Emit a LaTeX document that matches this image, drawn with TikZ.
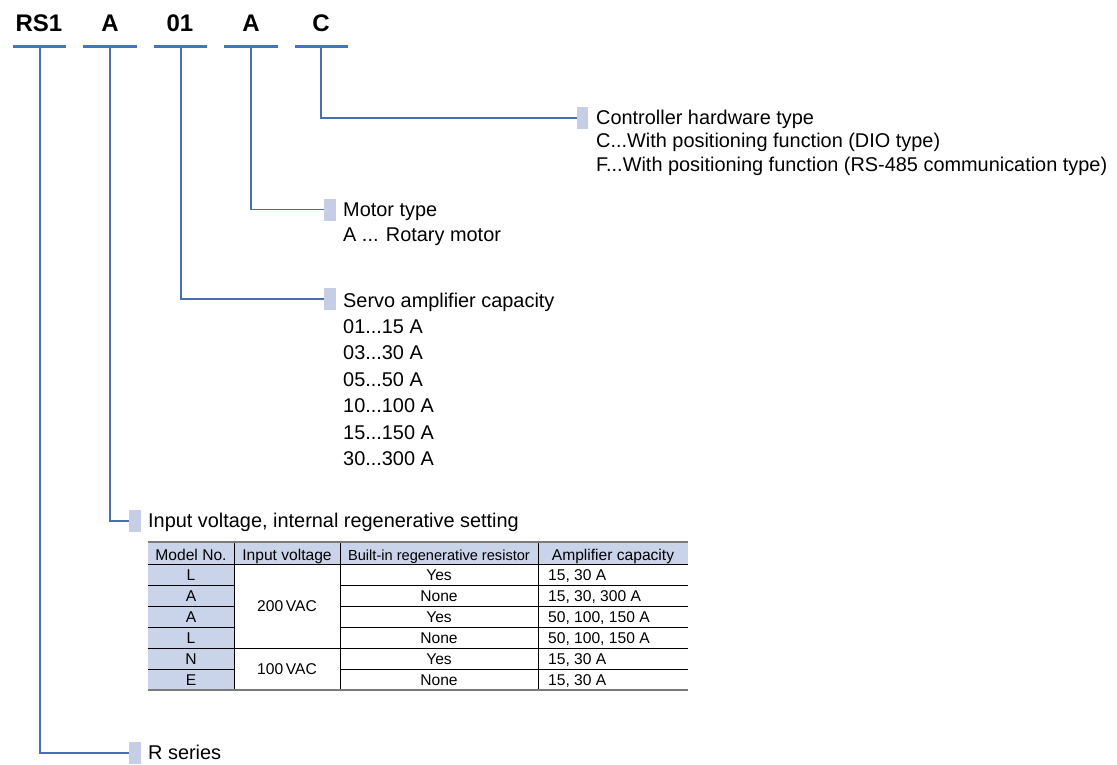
\documentclass[tikz,border=0pt]{standalone}
\usepackage{fontspec}
\setmainfont{Liberation Sans}
\definecolor{lineblue}{HTML}{4A6DB4}
\definecolor{barblue}{HTML}{4472C4}
\definecolor{markfill}{HTML}{C5CEE4}
\definecolor{hdrfill}{HTML}{C9D3E9}
\definecolor{tgray}{HTML}{7A7A7A}
\begin{document}
\begin{tikzpicture}[x=1pt,y=-1pt,
  codelbl/.style={font=\bfseries\fontsize{24}{28}\selectfont, anchor=base, inner sep=0},
  bar/.style={draw=barblue, line width=3pt},
  conn/.style={draw=lineblue, line width=1.2pt},
  markbox/.style={fill=markfill, minimum width=11.5pt, minimum height=22pt, inner sep=0},
  body/.style={font=\fontsize{19.9}{23}\selectfont, anchor=base west, inner sep=0},
  tbl/.style={font=\fontsize{15.6}{18}\selectfont, anchor=base, inner sep=0},
  tblw/.style={font=\fontsize{15.6}{18}\selectfont, anchor=base west, inner sep=0},
  tline/.style={draw=black, line width=0.9pt},
  tedge/.style={draw=tgray, line width=1.6pt}]
\useasboundingbox (0,0) rectangle (1117,764);
\fill[white] (0,0) rectangle (1117,764);

% code letters
\node[codelbl] (c1) at (39,31) {RS1};
\node[codelbl] (c2) at (110,31) {A};
\node[codelbl] (c3) at (180,31) {01};
\node[codelbl] (c4) at (251,31) {A};
\node[codelbl] (c5) at (321,31) {C};

% bars
\draw[bar] (13,46) -- (66,46);
\draw[bar] (83,46) -- (137,46);
\draw[bar] (154,46) -- (207,46);
\draw[bar] (224,46) -- (278,46);
\draw[bar] (295,46) -- (348,46);
\coordinate (b1) at (40,47.5);
\coordinate (b2) at (110,47.5);
\coordinate (b3) at (181,47.5);
\coordinate (b4) at (251,47.5);
\coordinate (b5) at (321,47.5);

% markers
\node[markbox] (m5) at (582.5,118) {};
\node[markbox] (m4) at (330,209.5) {};
\node[markbox] (m3) at (330,299) {};
\node[markbox] (m2) at (135,521) {};
\node[markbox] (m1) at (135,753) {};

% connectors
\draw[conn] (b5) |- (m5.west);
\draw[conn] (b4) |- (m4.west);
\draw[conn] (b3) |- (m3.west);
\draw[conn] (b2) |- (m2.west);
\draw[conn] (b1) |- (m1.west);

% texts
\node[body] (t5a) at (596,124) {Controller hardware type};
\node[body] (t5b) at (596,147.5) {C...With positioning function (DIO type)};
\node[body] (t5c) at (596,171) {F...With positioning function (RS-485 communication type)};

\node[body] (t4a) at (343,216) {Motor type};
\node[body] (t4b) at (343,241) {A ... Rotary motor};

\node[body] (t3a) at (343,307) {Servo amplifier capacity};
\node[body] (t31) at (343,333.4) {01...15 A};
\node[body] (t32) at (343,359.8) {03...30 A};
\node[body] (t33) at (343,386.2) {05...50 A};
\node[body] (t34) at (343,412.6) {10...100 A};
\node[body] (t35) at (343,439.0) {15...150 A};
\node[body] (t36) at (343,465.4) {30...300 A};

\node[body] (t2) at (148,527) {Input voltage, internal regenerative setting};
\node[body] (t1) at (148,759) {R series};

% table
\fill[hdrfill] (148,542) rectangle (688,564);
\fill[hdrfill] (148,564) rectangle (234,690);
\foreach \y in {585,606,627,669} {
  \draw[tline] (148,\y) -- (234,\y);
  \draw[tline] (340,\y) -- (688,\y);
}
\draw[tline] (148,564) -- (688,564);
\draw[tline] (148,648) -- (688,648);
\foreach \x in {234,340,538}
  \draw[tline] (\x,542) -- (\x,690);
\draw[tedge] (148,542) -- (688,542);
\draw[tedge] (148,690) -- (688,690);

\node[tbl] (h1) at (191,560) {Model No.};
\node[tbl] (h2) at (287,560) {Input voltage};
\node[tbl, font=\fontsize{14.6}{16}\selectfont] (h3) at (439,560) {Built-in regenerative resistor};
\node[tbl] (h4) at (613,560) {Amplifier capacity};

\foreach \i/\m/\r/\a in {1/L/Yes/{15, 30 A}, 2/A/None/{15, 30, 300 A}, 3/A/Yes/{50, 100, 150 A}, 4/L/None/{50, 100, 150 A}, 5/N/Yes/{15, 30 A}, 6/E/None/{15, 30 A}} {
  \node[tbl] (mn\i) at (191,564+21*\i-4.5) {\m};
  \node[tbl] (rr\i) at (439,564+21*\i-4.5) {\r};
  \node[tblw] (ac\i) at (548,564+21*\i-4.5) {\a};
}
\node[tbl] (v200) at (287,611.5) {200\,VAC};
\node[tbl] (v100) at (287,674.5) {100\,VAC};
\end{tikzpicture}
\end{document}
